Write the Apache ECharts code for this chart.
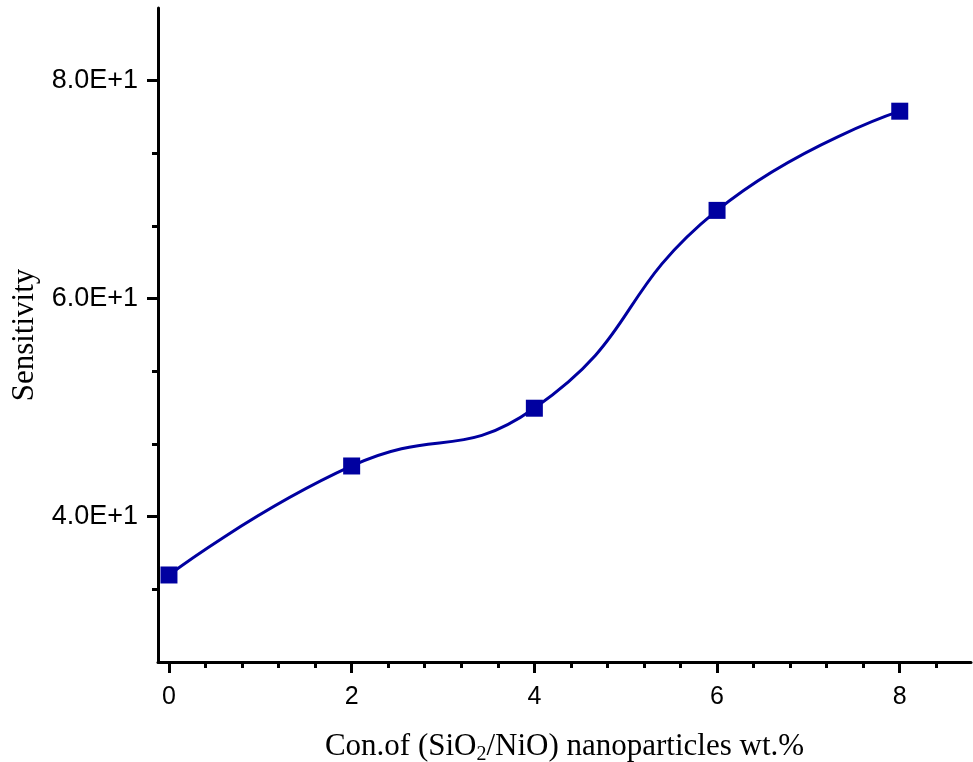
<!DOCTYPE html>
<html>
<head>
<meta charset="utf-8">
<script src="https://cdn.jsdelivr.net/npm/echarts@6/dist/echarts.min.js"></script>
<style>
  html, body { margin: 0; padding: 0; background: #fff; }
  #chart { width: 973px; height: 762px; }
</style>
</head>
<body>
<div id="chart"></div>
<script>
// SiO2/NiO loading (wt.%) and measured sensitivity
const concentration = [0, 2, 4, 6, 8];
const sensitivity = [34.65, 44.65, 49.95, 68.1, 77.2];

// Tick positions
const xMajorTicks = [0, 2, 4, 6, 8];
const xMinorTicks = [0.4, 0.8, 1.2, 1.6, 2.4, 2.8, 3.2, 3.6, 4.4, 4.8, 5.2, 5.6, 6.4, 6.8, 7.2, 7.6, 8.4];
const yMajorTicks = [40, 60, 80];
const yMinorTicks = [33.333, 46.667, 53.333, 66.667, 73.333];

const X_MIN = -0.12, X_MAX = 8.78;
const Y_MIN = 26.667, Y_MAX = 86.667;
const INK = '#000000';
const SERIES_COLOR = '#0000a0';

const chart = echarts.init(document.getElementById('chart'), null, { renderer: 'canvas' });

const axisFont = { fontFamily: '"Liberation Sans", Arial, sans-serif', fontSize: 27, color: INK };
const titleFont = { fontFamily: '"Liberation Serif", "Times New Roman", serif', fontSize: 31, color: INK };

chart.setOption({
  animation: false,
  backgroundColor: '#ffffff',
  grid: { left: 158, right: 2, top: 8, bottom: 100, containLabel: false, outerBoundsMode: 'none' },
  xAxis: [
    {
      type: 'value', min: X_MIN, max: X_MAX,
      name: 'Con.of (SiO{sub|2}/NiO) nanoparticles wt.%',
      nameLocation: 'middle', nameGap: 67,
      nameTextStyle: Object.assign({}, titleFont, {
        lineHeight: 36,
        rich: { sub: Object.assign({}, titleFont, { fontSize: 20, lineHeight: 18, verticalAlign: 'bottom' }) }
      }),
      axisLine: { show: true, onZero: false, lineStyle: { color: INK, width: 3 } },
      axisTick: { show: true, inside: false, length: 11, customValues: xMajorTicks, lineStyle: { color: INK, width: 3 } },
      axisLabel: Object.assign({ show: true, margin: 23, customValues: xMajorTicks, formatter: v => String(v) }, axisFont, { fontSize: 25 }),
      splitLine: { show: false }
    },
    {
      type: 'value', min: X_MIN, max: X_MAX, position: 'bottom', offset: 0,
      axisLine: { show: false, onZero: false },
      axisTick: { show: true, inside: false, length: 6, customValues: xMinorTicks, lineStyle: { color: INK, width: 3 } },
      axisLabel: { show: false },
      splitLine: { show: false }
    }
  ],
  yAxis: [
    {
      type: 'value', min: Y_MIN, max: Y_MAX,
      name: 'Sensitivity', nameLocation: 'middle', nameGap: 112,
      nameTextStyle: titleFont,
      axisLine: { show: true, onZero: false, lineStyle: { color: INK, width: 3 } },
      axisTick: { show: true, inside: false, length: 11, customValues: yMajorTicks, lineStyle: { color: INK, width: 3 } },
      axisLabel: Object.assign({
        show: true, margin: 20, customValues: yMajorTicks,
        formatter: v => Number(v).toExponential(1).replace('e+', 'E+').replace('e-', 'E-')
      }, axisFont),
      splitLine: { show: false }
    },
    {
      type: 'value', min: Y_MIN, max: Y_MAX, position: 'left', offset: 0,
      axisLine: { show: false, onZero: false },
      axisTick: { show: true, inside: false, length: 6, customValues: yMinorTicks, lineStyle: { color: INK, width: 3 } },
      axisLabel: { show: false },
      splitLine: { show: false }
    }
  ],
  series: [
    {
      type: 'line',
      xAxisIndex: 0, yAxisIndex: 0,
      data: concentration.map((c, i) => [c, sensitivity[i]]),
      smooth: 0.5,
      symbol: 'rect', symbolSize: 17,
      showAllSymbol: true,
      clip: false,
      lineStyle: { color: SERIES_COLOR, width: 3 },
      itemStyle: { color: SERIES_COLOR, borderWidth: 0 },
      emphasis: { disabled: true }
    }
  ]
});
</script>
</body>
</html>
